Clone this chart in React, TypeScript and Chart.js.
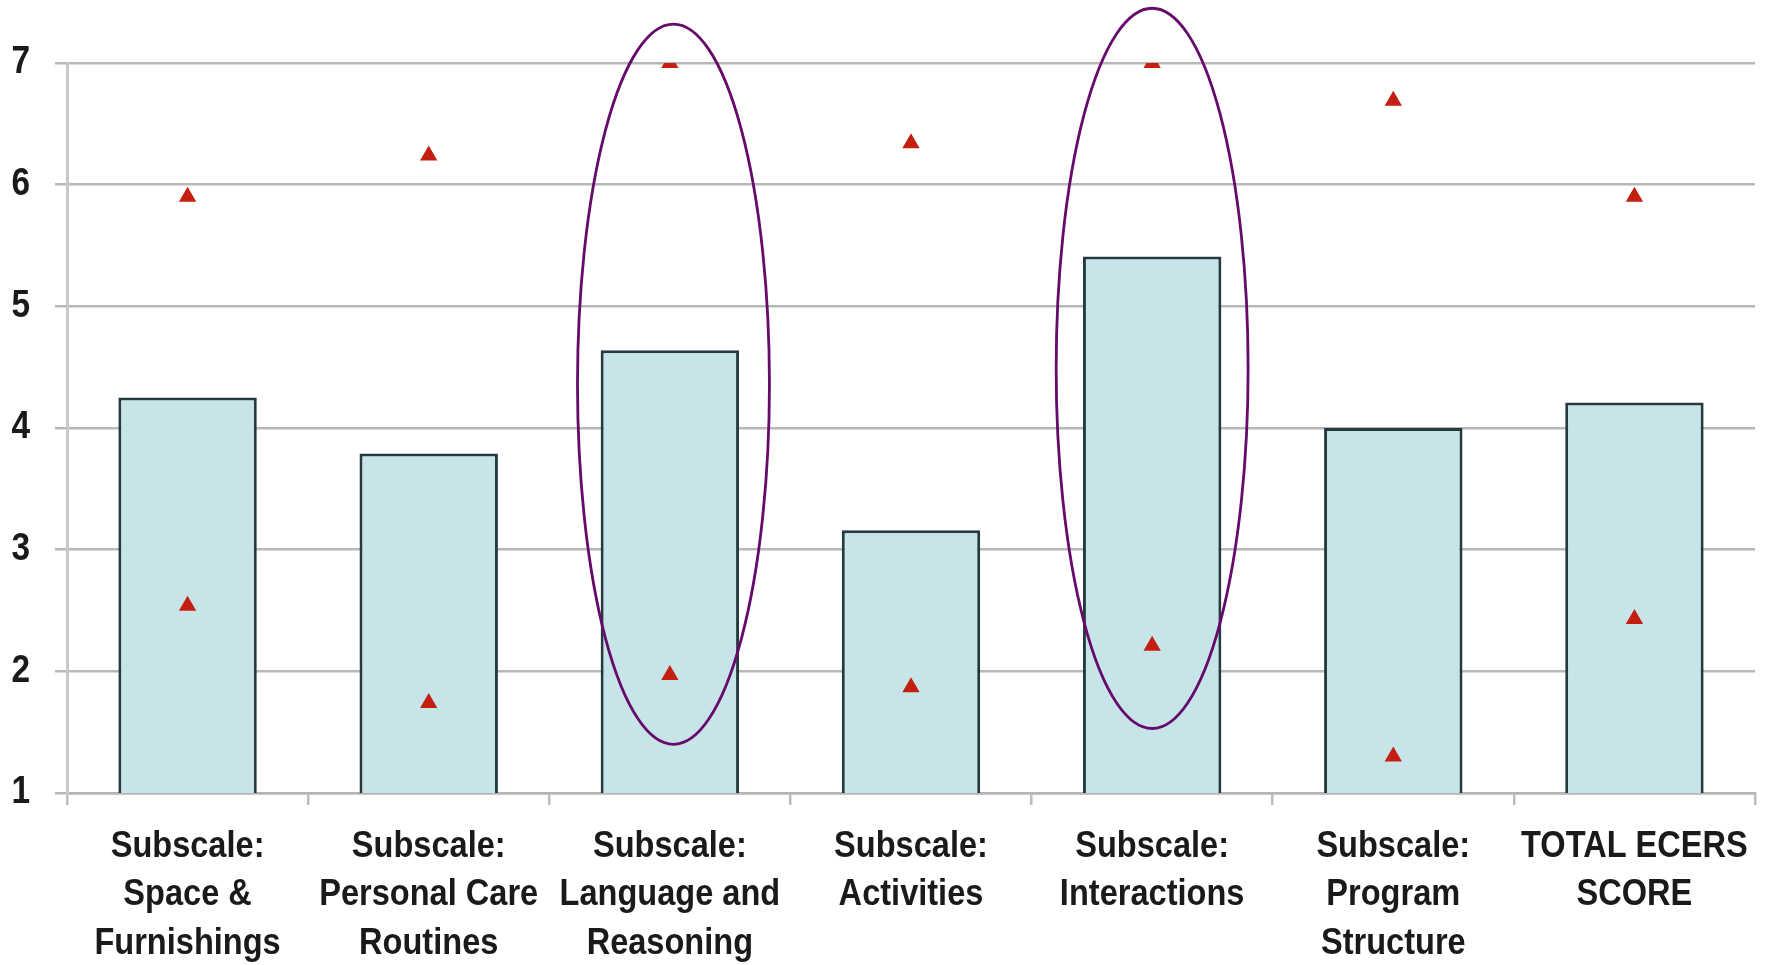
import React, { useEffect, useRef } from "react";
import { Chart, registerables } from "chart.js";

Chart.register(...registerables);

const categories: string[][] = [
  ["Subscale:", "Space &", "Furnishings"],
  ["Subscale:", "Personal Care", "Routines"],
  ["Subscale:", "Language and", "Reasoning"],
  ["Subscale:", "Activities"],
  ["Subscale:", "Interactions"],
  ["Subscale:", "Program", "Structure"],
  ["TOTAL ECERS", "SCORE"],
];
const meanScores = [4.25, 3.79, 4.64, 3.16, 5.41, 4.0, 4.21];
const maxScores = [5.9, 6.24, 7.0, 6.34, 7.0, 6.69, 5.9];
const minScores = [2.54, 1.74, 1.97, 1.87, 2.21, 1.3, 2.43];
const yTicks = [1, 2, 3, 4, 5, 6, 7];

// highlighted categories (ellipse annotations)
const ellipseCategories = [2.015, 4];
const ellipseCenters = [4.36, 4.49];
const ellipseHalfHeights = [2.96, 2.96];
const ellipseHalfWidthFraction = 0.398;

const FONT = "'Liberation Sans', Arial, sans-serif";
const NARROW = 0.88;

const ellipsePlugin = {
  id: "ellipses",
  afterDatasetsDraw(chart: any) {
    const { ctx, scales } = chart;
    const x = scales.x;
    const y = scales.y;
    const catW = Math.abs(x.getPixelForValue(1) - x.getPixelForValue(0));
    ctx.save();
    ctx.strokeStyle = "#660a6c";
    ctx.lineWidth = 2.8;
    ellipseCategories.forEach((c, i) => {
      const cx = x.getPixelForValue(0) + c * catW;
      const cy = y.getPixelForValue(ellipseCenters[i]);
      const ry = Math.abs(y.getPixelForValue(ellipseCenters[i] - ellipseHalfHeights[i]) - cy);
      const rx = catW * ellipseHalfWidthFraction;
      ctx.beginPath();
      ctx.ellipse(cx, cy, rx, ry, 0, 0, Math.PI * 2);
      ctx.stroke();
    });
    ctx.restore();
  },
};

// render tick labels in a condensed (narrow) style
const narrowLabelsPlugin = {
  id: "narrowLabels",
  beforeDraw(chart: any) {
    ["x", "y"].forEach((id) => {
      const s = chart.scales[id];
      if (!s || s._narrowPatched) return;
      s._narrowPatched = true;
      const orig = s.drawLabels.bind(s);
      s.drawLabels = (area: any) => {
        const ctx = s.ctx;
        const ft = ctx.fillText;
        ctx.fillText = function (text: string, x: number, y: number) {
          ctx.save();
          ctx.translate(x, y);
          ctx.scale(NARROW, 1);
          ft.call(ctx, text, 0, 0);
          ctx.restore();
        };
        try {
          orig(area);
        } finally {
          ctx.fillText = ft;
        }
      };
    });
  },
};

export default function App() {
  const ref = useRef<HTMLCanvasElement>(null);
  useEffect(() => {
    if (!ref.current) return;
    const triangle = {
      type: "line",
      showLine: false,
      pointStyle: "triangle",
      pointRadius: 10,
      pointHoverRadius: 10,
      pointBackgroundColor: "#c41e10",
      pointBorderColor: "#c41e10",
      pointBorderWidth: 0,
      order: 0,
    };
    const chart = new Chart(ref.current, {
      type: "bar",
      data: {
        labels: categories,
        datasets: [
          { ...triangle, label: "Max", data: maxScores } as any,
          { ...triangle, label: "Min", data: minScores } as any,
          {
            type: "bar",
            label: "Mean",
            data: meanScores,
            backgroundColor: "#c7e5e9",
            borderColor: "#243a3e",
            borderWidth: 3,
            categoryPercentage: 1,
            barPercentage: 0.574,
            order: 1,
          },
        ],
      },
      options: {
        responsive: false,
        animation: false,
        devicePixelRatio: 1,
        layout: { padding: { top: 63, left: 0, right: 3, bottom: 0 } },
        plugins: { legend: { display: false }, tooltip: { enabled: false } },
        scales: {
          x: {
            offset: true,
            afterFit(s: any) {
              s.height = 172;
              s.paddingLeft = 0;
              s.paddingRight = 0;
            },
            grid: {
              offset: true,
              drawOnChartArea: false,
              drawTicks: true,
              tickLength: 12,
              color: "#bdbdbd",
              lineWidth: 2.5,
            },
            border: { display: true, color: "#b5b5b5", width: 2.5 },
            ticks: {
              autoSkip: false,
              maxRotation: 0,
              minRotation: 0,
              padding: 17,
              color: "#1a1a1a",
              font: { family: FONT, size: 37, weight: "bold", lineHeight: 1.32 },
            },
          },
          y: {
            min: 1,
            max: 7,
            afterFit(s: any) {
              s.width = 67;
            },
            afterBuildTicks(scale: any) {
              scale.ticks = yTicks.map((v) => ({ value: v }));
            },
            grid: {
              color: "#b8b8b8",
              lineWidth: 2.5,
              drawTicks: true,
              tickLength: 12,
            },
            border: { display: true, color: "#c8c8c8", width: 3 },
            ticks: {
              padding: 25,
              color: "#1a1a1a",
              font: { family: FONT, size: 38, weight: "bold" },
            },
          },
        },
      },
      plugins: [narrowLabelsPlugin, ellipsePlugin],
    });
    return () => chart.destroy();
  }, []);
  return (
    <div style={{ position: "fixed", left: 0, top: 0, width: 1765, height: 965, background: "#fff" }}>
      <canvas ref={ref} width={1765} height={965} />
    </div>
  );
}
